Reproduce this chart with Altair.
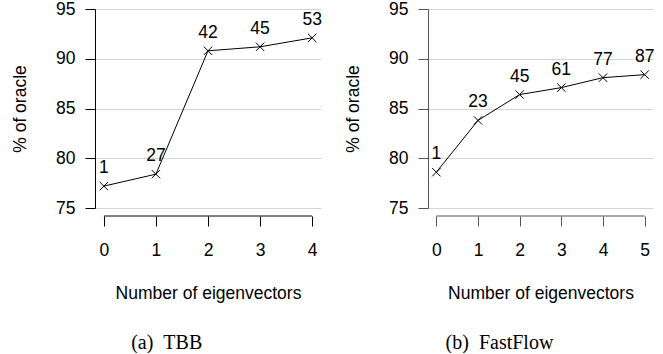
import altair as alt
import pandas as pd

# ---- data ----
tbb_x = [0, 1, 2, 3, 4]
tbb_y = [77.2, 78.4, 90.8, 91.2, 92.1]
tbb_lab = ["1", "27", "42", "45", "53"]

ff_x = [0, 1, 2, 3, 4, 5]
ff_y = [78.6, 83.8, 86.4, 87.1, 88.1, 88.4]
ff_lab = ["1", "23", "45", "61", "77", "87"]

y_ticks = [75, 80, 85, 90, 95]

SANS = "Liberation Sans"
SERIF = "Liberation Serif"
FS = 17.5
H = 199


def panel(xs, ys, labs, dom, width, caption, axis_color):
    df = pd.DataFrame({"n": xs, "v": ys, "lab": labs})
    xsc = alt.Scale(domain=dom, nice=False, zero=False)
    ysc = alt.Scale(domain=[75, 95], nice=False, zero=False)
    xax = alt.Axis(
        values=xs, format="d", offset=8, domain=False, grid=False,
        tickSize=10, tickColor=axis_color, labelPadding=15,
        labelFont=SANS, labelFontSize=FS, labelColor="black",
        title="Number of eigenvectors", titleFont=SANS, titleFontSize=FS,
        titleFontWeight="normal", titleColor="black", titlePadding=26,
    )
    yax = alt.Axis(
        values=y_ticks, grid=True, gridColor="#d4d4d4", gridWidth=1,
        domainColor=axis_color, tickColor=axis_color, tickSize=10,
        labelPadding=10, labelFont=SANS, labelFontSize=FS, labelColor="black",
        title="% of oracle", titleFont=SANS, titleFontSize=FS,
        titleFontWeight="normal", titleColor="black", titlePadding=26,
    )
    base = alt.Chart(df)
    line = base.mark_line(color="black", strokeWidth=1).encode(
        x=alt.X("n:Q", scale=xsc, axis=xax),
        y=alt.Y("v:Q", scale=ysc, axis=yax),
    )
    pts = base.mark_point(
        shape="M-1,-1L1,1M1,-1L-1,1", size=70, filled=False,
        color="black", strokeWidth=1, opacity=1,
    ).encode(x=alt.X("n:Q", scale=xsc), y=alt.Y("v:Q", scale=ysc))
    txt = base.mark_text(
        dy=-18, font=SANS, fontSize=FS, color="black", baseline="middle",
    ).encode(x=alt.X("n:Q", scale=xsc), y=alt.Y("v:Q", scale=ysc), text="lab:N")
    xline = base.mark_rule(color=axis_color, strokeWidth=1).encode(
        x=alt.X("min(n):Q", scale=xsc),
        x2="max(n):Q",
        y=alt.value(H + 8),
    )
    return alt.layer(line, pts, txt, xline).properties(
        width=width, height=H,
        title=alt.TitleParams(
            caption, orient="bottom", anchor="middle", frame="bounds",
            font=SERIF, fontSize=20, fontWeight="normal", color="black",
            offset=31,
        ),
    )


left = panel(tbb_x, tbb_y, tbb_lab, [-0.17, 4.17], 226, "(a)\u2002TBB", "#000000")
right = panel(ff_x, ff_y, ff_lab, [-0.2, 5.2], 225, "(b)\u2002FastFlow", "#555555")

chart = alt.hconcat(left, right, spacing=22).properties(
    padding={"left": 11, "top": 0, "right": 0, "bottom": 0}
).configure_view(stroke=None)

chart.save("out.html", embed_options={"renderer": "svg", "actions": False})
